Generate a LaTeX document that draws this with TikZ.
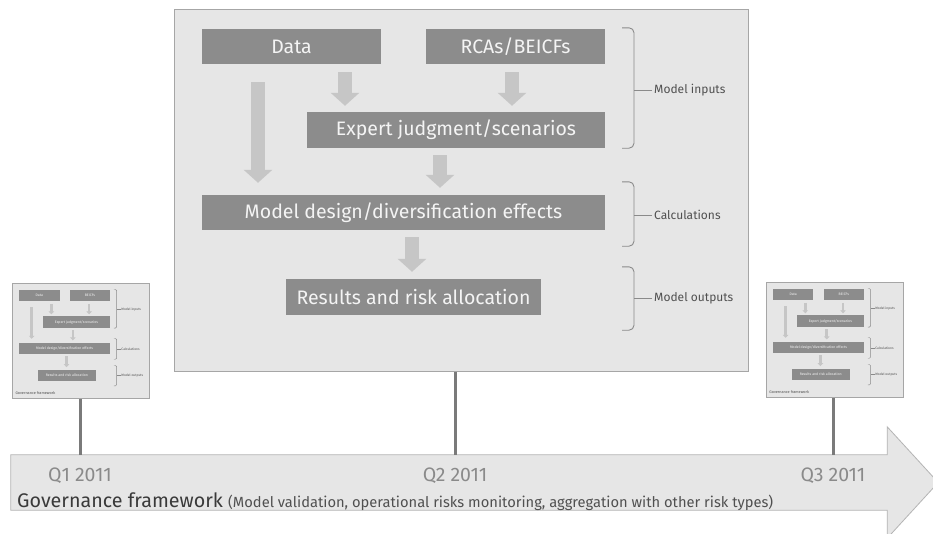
\documentclass[tikz,border=0pt]{standalone}
\usepackage{fontspec}
\setmainfont{Fira Sans}
\usetikzlibrary{fit,calc,arrows.meta}

\definecolor{panelfill}{HTML}{E6E6E6}
\definecolor{panelline}{HTML}{A6A6A6}
\definecolor{boxfill}{HTML}{8C8C8C}
\definecolor{boxtext}{HTML}{F4F4F4}
\definecolor{flowgray}{HTML}{C6C6C6}
\definecolor{bracegray}{HTML}{8A8A8A}
\definecolor{labelgray}{HTML}{505050}
\definecolor{stemgray}{HTML}{7A7A7A}
\definecolor{bandfill}{HTML}{E6E6E6}
\definecolor{bandline}{HTML}{B4B4B4}
\definecolor{quartergray}{HTML}{8A8A8A}
\definecolor{govtext}{HTML}{3A3A3A}
\definecolor{govsub}{HTML}{505050}

\tikzset{
  panelframe/.style={draw=panelline, fill=panelfill, line width=1pt, inner sep=0pt},
  boxfont/.style={font=\fontsize{19.5}{22}\selectfont},
  sidefont/.style={font=\fontsize{12}{14}\selectfont},
  stepbox/.style={fill=boxfill, inner sep=0pt},
  steptext/.style={inner sep=0pt, text=boxtext, boxfont},
  flowarrow/.style={draw=flowgray, line width=14pt, -{Triangle[length=13pt,width=28pt]}},
  bracket/.style={draw=bracegray, line width=0.9pt, rounded corners=5pt},
  sidelabel/.style={anchor=west, inner sep=2pt, text=labelgray, sidefont},
  stem/.style={draw=stemgray, line width=3pt},
  band/.style={draw=bandline, fill=bandfill, line width=0.8pt},
  quarter/.style={text=quartergray, font=\fontsize{19.5}{22}\selectfont, inner sep=0pt},
}

% One model panel: #1 name prefix, #2 right edge of the frame, #3 second input
\newcommand\drawpanel[3]{%
  \node[panelframe, fit={(174,9)(#2,371)}] (#1frame) {};
  \node[stepbox, fit={(202,29)(381,64)}, label={[steptext]center:Data}] (#1data) {};
  \node[stepbox, fit={(426,29)(605,64)}, label={[steptext]center:#3}] (#1rca) {};
  \node[stepbox, fit={(307,112)(605,148)},
        label={[steptext]center:Expert judgment/scenarios}] (#1exp) {};
  \node[stepbox, fit={(202,195)(605,230)},
        label={[steptext]center:Model design/diversification effects}] (#1mod) {};
  \node[stepbox, fit={(286,279)(541,315)},
        label={[steptext]center:Results and risk allocation}] (#1res) {};
  \path (345,0) coordinate (#1xa) (512,0) coordinate (#1xb) (258,0) coordinate (#1xc)
        (440,0) coordinate (#1xd) (412,0) coordinate (#1xe)
        (622,0) coordinate (#1bx) (634,0) coordinate (#1bt);
  % flow arrows
  \draw[flowarrow] ($(#1data.south -| #1xa)+(0,8)$) -- ($(#1exp.north -| #1xa)-(0,6)$);
  \draw[flowarrow] ($(#1rca.south -| #1xb)+(0,8)$) -- ($(#1exp.north -| #1xb)-(0,6)$);
  \draw[flowarrow] ($(#1data.south -| #1xc)+(0,18)$) -- ($(#1mod.north -| #1xc)-(0,12)$);
  \draw[flowarrow] ($(#1exp.south -| #1xd)+(0,7)$) -- ($(#1mod.north -| #1xd)-(0,7)$);
  \draw[flowarrow] ($(#1mod.south -| #1xe)+(0,7)$) -- ($(#1res.north -| #1xe)-(0,7)$);
  % brackets with their labels
  \node[sidelabel] (#1lin) at (652,90) {Model inputs};
  \node[sidelabel] (#1lcal) at (652,215) {Calculations};
  \node[sidelabel] (#1lout) at (652,298) {Model outputs};
  \draw[bracket] ($(#1bx |- #1data.north)-(0,1)$) -- ($(#1bt |- #1data.north)-(0,1)$)
     -- (#1bt |- #1exp.south) -- (#1bx |- #1exp.south);
  \draw[bracket] ($(#1bx |- #1mod.north)-(0,13)$) -- ($(#1bt |- #1mod.north)-(0,13)$)
     -- ($(#1bt |- #1mod.south)+(0,16)$) -- ($(#1bx |- #1mod.south)+(0,16)$);
  \draw[bracket] ($(#1bx |- #1res.north)-(0,12)$) -- ($(#1bt |- #1res.north)-(0,12)$)
     -- ($(#1bt |- #1res.south)+(0,15)$) -- ($(#1bx |- #1res.south)+(0,15)$);
  \draw[bracket] (#1lin.west) -- (#1lin.west -| #1bt);
  \draw[bracket] (#1lcal.west) -- (#1lcal.west -| #1bt);
  \draw[bracket] (#1lout.west) -- (#1lout.west -| #1bt);
}

% reduced look for the small panels
\tikzset{
  smallpanel/.style={
    boxfont/.style={font=\fontsize{3.5}{4}\selectfont},
    sidefont/.style={font=\fontsize{3.3}{4}\selectfont},
    flowarrow/.style={draw=flowgray, line width=2.6pt, -{Triangle[length=3pt,width=5.5pt]}},
    bracket/.style={draw=bracegray, line width=0.45pt, rounded corners=1.2pt},
    panelframe/.style={draw=panelline, fill=panelfill, line width=0.7pt, inner sep=0pt},
    sidelabel/.style={anchor=west, inner sep=0.5pt, text=labelgray, sidefont},
  },
  footnote/.style={anchor=west, inner sep=0pt, text=labelgray, font=\fontsize{3.8}{4}\selectfont},
}

\begin{document}
\begin{tikzpicture}[x={(1pt,0)}, y={(0,-1pt)}]
  \useasboundingbox (0,0) rectangle (933,533);
  \fill[white] (0,0) rectangle (933,533);

  % timeline band
  \node[inner sep=0pt, fit={(11,455)(887,510)}] (tl) {};
  \draw[band] (tl.north west) -- (tl.north east) -- ++(0,-28) -- ($(tl.east)+(51,0)$)
     -- ($(tl.south east)+(0,28)$) -- (tl.south east) -- (tl.south west) -- cycle;

  % main panel
  \drawpanel{M}{748}{RCAs/BEICFs}

  % small panels
  \begin{scope}[shift={(-26.6,280.8)}, x={(0.226pt,0)}, y={(0,-0.318pt)}, smallpanel]
    \drawpanel{L}{779}{BEICFs}
    \node[footnote] (Lfoot) at ($(Lframe.south west)+(13,-19)$) {Governance framework};
  \end{scope}
  \begin{scope}[shift={(727.3,279.8)}, x={(0.226pt,0)}, y={(0,-0.318pt)}, smallpanel]
    \drawpanel{R}{779}{BEICFs}
    \node[footnote] (Rfoot) at ($(Rframe.south west)+(13,-19)$) {Governance framework};
  \end{scope}

  % quarters and stems
  \node[quarter] (q1) at (80,476) {Q1 2011};
  \node[quarter] (q2) at (455,476) {Q2 2011};
  \node[quarter] (q3) at (833,476) {Q3 2011};
  \draw[stem] (Lframe.south -| q1) -- (tl.north -| q1);
  \draw[stem] (Mframe.south -| q2) -- (tl.north -| q2);
  \draw[stem] (Rframe.south -| q3) -- (tl.north -| q3);

  \node[anchor=base west, inner sep=0pt, text=govtext] (gov) at (17,507)
    {\fontsize{19.7}{22}\selectfont Governance framework
     \textcolor{govsub}{\fontsize{14.7}{17}\selectfont (Model validation, operational risks monitoring, aggregation with other risk types)}};
\end{tikzpicture}
\end{document}
